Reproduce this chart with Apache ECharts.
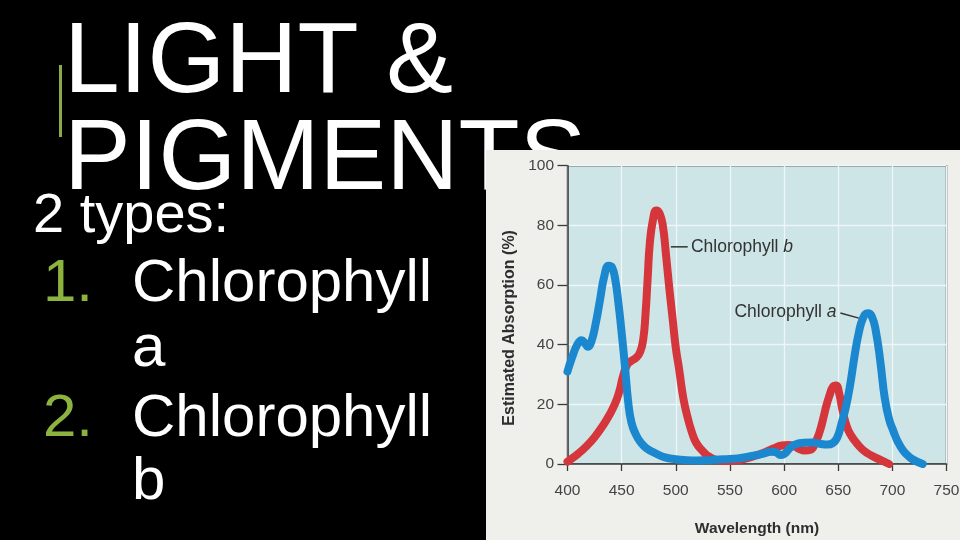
<!DOCTYPE html>
<html>
<head>
<meta charset="utf-8">
<script src="https://cdn.jsdelivr.net/npm/echarts@6/dist/echarts.min.js"></script>
<style>
html,body{margin:0;padding:0;background:#000;}
#c{width:960px;height:540px;}
</style>
</head>
<body>
<div id="c"></div>
<script>
// ---- data ----
const xTicks = [400, 450, 500, 550, 600, 650, 700, 750];
const yTicks = [0, 20, 40, 60, 80, 100];
const seriesNames = ['Chlorophyll a', 'Chlorophyll b'];

const wavelengthA = [400,404,409,413,416,419,422,426,430,434,438,441,444,447,450,453,456,459,463,468,474,480,490,500,510,520,530,540,550,560,570,580,588,592,597,601,606,612,618,626,634,640,645,649,653,657,661,665,669,673,677,681,685,689,693,697,701,705,710,715,720,728];
const absorptionA = [31,35.5,40,41.5,40.5,39.3,41,47,55,63,66.5,66,62,54,44,33,21,14,10,7,5,3.8,2.2,1.6,1.3,1.2,1.3,1.5,1.7,2,2.7,3.4,4.1,4,3,3.6,5.6,6.8,7.1,7.2,6.7,6.5,7,8.8,13.5,19,26.5,36,44,49,50.5,49.5,44,34,22,15,11,7.5,4.5,2.6,1.3,0];

const wavelengthB = [400,402,410,417,425,432,438,444,448,451,455,459,463,467,470,472,474,476,479,482,485,488,491,494,497,500,503,507,511,515,519,525,531,540,550,560,570,580,590,598,604,609,614,619,624,629,633,636,639,642,645,648,651,654,658,662,667,672,677,683,690,697];
const absorptionB = [0.8,1.3,3.5,5.8,9,12.5,16,20.3,24.5,29,33.2,34.6,35.5,37.5,42,50,62,74,82,85,84,80,70,59,49,39,32,22,15.5,10.5,7,4.3,2.4,1.2,1,1.4,2.4,3.6,5.2,6.2,6.4,6,5,4.5,4.7,7.3,11,15,19.5,23,25.8,26.3,23.5,18,12.5,9.5,7,5,3.6,2.4,1.2,0];

const titleLines = ['LIGHT &', 'PIGMENTS'];
const introLine = '2 types:';
const listNumbers = ['1.', '2.'];
const listLines = [['Chlorophyll', 'a'], ['Chlorophyll', 'b']];
const xAxisName = 'Wavelength (nm)';
const yAxisName = 'Estimated Absorption (%)';

const pairs = (xs, ys) => xs.map((x, i) => [x, ys[i]]);

const chart = echarts.init(document.getElementById('c'), null, {renderer: 'canvas'});

const FONT = '"Liberation Sans", Arial, Helvetica, sans-serif';
const MID = 0.21; // baseline offset from text middle, in em

function slideGraphics() {
  const g = [];
  g.push({type: 'rect', z: -30, shape: {x: 59, y: 65, width: 3, height: 72}, style: {fill: '#8aab45'}});
  const titleBase = [85, 182];
  titleLines.forEach((t, i) => {
    g.push({type: 'text', z: -30, style: {text: t, x: 64, y: titleBase[i] - MID * 100, font: '100px ' + FONT, fill: '#ffffff', verticalAlign: 'middle', align: 'left'}});
  });
  g.push({type: 'text', z: -30, style: {text: introLine, x: 33, y: 228 - MID * 56, font: '56px ' + FONT, fill: '#ffffff', verticalAlign: 'middle'}});
  const numBase = [297, 432];
  const subBase = [362, 495];
  listNumbers.forEach((n, i) => {
    g.push({type: 'text', z: -30, style: {text: n, x: 43, y: numBase[i] - MID * 60, font: '60px ' + FONT, fill: '#8db33f', verticalAlign: 'middle'}});
    g.push({type: 'text', z: -30, style: {text: listLines[i][0], x: 132, y: numBase[i] - MID * 60, font: '60px ' + FONT, fill: '#ffffff', verticalAlign: 'middle'}});
    g.push({type: 'text', z: -30, style: {text: listLines[i][1], x: 132, y: subBase[i] - MID * 60, font: '60px ' + FONT, fill: '#ffffff', verticalAlign: 'middle'}});
  });
  g.push({type: 'rect', z: -20, shape: {x: 486, y: 150, width: 474, height: 390}, style: {fill: '#efefec'}});
  return g;
}

const option = {
  backgroundColor: '#000000',
  animation: false,
  graphic: slideGraphics(),
  grid: {
    left: 567.5, right: 13.5, top: 165.7, bottom: 76,
    containLabel: false, outerBoundsMode: 'none',
    show: true, backgroundColor: '#cde5e6', borderColor: '#3a3a3a', borderWidth: 1.5, z: 0
  },
  xAxis: {
    type: 'value', min: 400, max: 750, interval: 50,
    name: xAxisName, nameLocation: 'middle', nameGap: 57,
    nameTextStyle: {fontFamily: FONT, fontWeight: 'bold', fontSize: 15.5, color: '#2e2e2e'},
    axisLine: {show: true, onZero: false, lineStyle: {color: '#3a3a3a', width: 1.5}},
    axisTick: {show: true, inside: false, length: 7, lineStyle: {color: '#3a3a3a', width: 1.3}},
    axisLabel: {margin: 19, fontFamily: FONT, fontSize: 15.5, color: '#444'},
    splitLine: {show: true, lineStyle: {color: '#eef7f7', width: 1.3}}
  },
  yAxis: {
    type: 'value', min: 0, max: 100, interval: 20,
    name: yAxisName, nameLocation: 'middle', nameGap: 50, nameRotate: 90,
    nameTextStyle: {fontFamily: FONT, fontWeight: 'bold', fontSize: 16, color: '#2e2e2e', padding: [0, 26, 0, 0]},
    axisLine: {show: true, lineStyle: {color: '#3a3a3a', width: 1.5}},
    axisTick: {show: true, inside: false, length: 10, lineStyle: {color: '#3a3a3a', width: 1.3}},
    axisLabel: {margin: 13.5, fontFamily: FONT, fontSize: 15.5, color: '#444'},
    splitLine: {show: true, lineStyle: {color: '#eef7f7', width: 1.3}}
  },
  series: [
    {
      name: seriesNames[1], type: 'line', data: pairs(wavelengthB, absorptionB),
      smooth: 0.5, showSymbol: false, symbol: 'none', clip: true,
      lineStyle: {color: '#d5363b', width: 8, cap: 'round', join: 'round'}, z: 3
    },
    {
      name: seriesNames[0], type: 'line', data: pairs(wavelengthA, absorptionA),
      smooth: 0.5, showSymbol: false, symbol: 'none', clip: true,
      lineStyle: {color: '#1b87cf', width: 8, cap: 'round', join: 'round'}, z: 4
    }
  ]
};

chart.setOption(option);

function px(p) { return chart.convertToPixel({gridIndex: 0}, p); }
const bLineStart = px([495.5, 72.8]);
const bLineEnd = px([511, 72.8]);
const bText = px([514, 72.6]);
const aText = px([648.5, 51]);
const aLineStart = px([652, 50.6]);
const aLineEnd = px([669, 48.9]);

const annotations = slideGraphics().concat([
  {type: 'line', z: 10, shape: {x1: bLineStart[0], y1: bLineStart[1], x2: bLineEnd[0], y2: bLineEnd[1]}, style: {stroke: '#333', lineWidth: 1.5}},
  {type: 'text', z: 10, style: {
    text: '{n|Chlorophyll }{i|b}', x: bText[0], y: bText[1], verticalAlign: 'middle', align: 'left',
    rich: {n: {font: '17.5px ' + FONT, fill: '#333'}, i: {font: 'italic 17.5px ' + FONT, fill: '#333'}}
  }},
  {type: 'line', z: 10, shape: {x1: aLineStart[0], y1: aLineStart[1], x2: aLineEnd[0], y2: aLineEnd[1]}, style: {stroke: '#333', lineWidth: 1.5}},
  {type: 'text', z: 10, style: {
    text: '{n|Chlorophyll }{i|a}', x: aText[0], y: aText[1], verticalAlign: 'middle', align: 'right',
    rich: {n: {font: '17.5px ' + FONT, fill: '#333'}, i: {font: 'italic 17.5px ' + FONT, fill: '#333'}}
  }}
]);

chart.setOption({graphic: annotations}, {replaceMerge: ['graphic']});
</script>
</body>
</html>
